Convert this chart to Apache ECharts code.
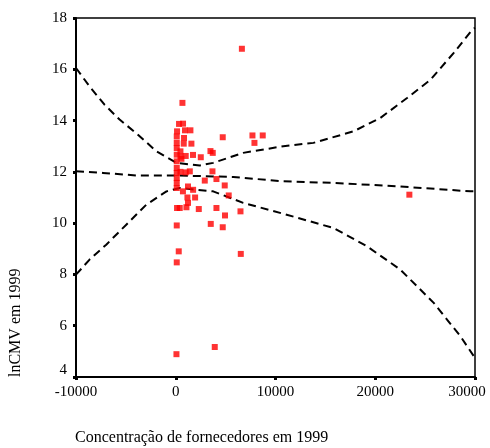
<!DOCTYPE html>
<html>
<head>
<meta charset="utf-8">
<script src="https://cdn.jsdelivr.net/npm/echarts@6/dist/echarts.min.js"></script>
<style>html,body{margin:0;padding:0;background:#fff}#c{width:490px;height:448px}</style>
</head>
<body>
<div id="c"></div>
<script>
var xAxisName = 'Concentração de fornecedores em 1999';
var yAxisName = 'lnCMV em 1999';

var points = [
  [6630,16.8],[670,14.69],[330,13.87],[730,13.88],[130,13.58],[930,13.62],[1470,13.62],
  [100,13.38],[830,13.32],[7690,13.42],[8720,13.42],[7890,13.13],[4710,13.35],
  [100,13.13],[800,13.10],[1570,13.10],[100,12.93],[470,12.80],[100,12.67],[470,12.6],
  [1000,12.62],[1730,12.66],[2510,12.57],[3480,12.81],[3710,12.74],[100,12.41],[570,12.51],
  [100,12.15],[100,11.96],[470,12.0],[1000,11.98],[1410,12.02],[3680,12.02],[100,11.76],
  [100,11.57],[100,11.37],[1230,11.43],[2910,11.66],[4080,11.72],[720,11.24],[1740,11.30],
  [4910,11.47],[1170,11.0],[1940,11.0],[5310,11.08],[1230,10.79],[130,10.59],[400,10.59],
  [1070,10.62],[2310,10.55],[4080,10.59],[4940,10.30],[6490,10.46],[100,9.91],[3510,9.97],
  [4710,9.84],[300,8.90],[6520,8.80],[100,8.47],[3910,5.17],[70,4.89],[23420,11.11]
];

var upperBand = [
  [-10000,16.05],[-8640,15.33],[-7140,14.62],[-5630,14.04],[-3790,13.45],[-1940,12.80],
  [70,12.35],[2410,12.25],[3750,12.35],[6760,12.74],[10780,13.0],[13800,13.13],[17820,13.58],
  [20500,14.1],[23190,14.88],[25530,15.59],[27870,16.64],[29720,17.54],[30000,17.62]
];
var fitLine = [
  [-10000,12.02],[-7300,11.96],[-3950,11.86],[70,11.86],[5760,11.80],[10780,11.63],
  [15810,11.57],[22510,11.43],[29550,11.24],[30000,11.24]
];
var lowerBand = [
  [-10000,7.99],[-8640,8.58],[-6970,9.16],[-4960,9.94],[-2950,10.72],[-930,11.24],
  [400,11.37],[3750,11.24],[6760,10.79],[11120,10.33],[15810,9.81],[19160,9.10],
  [22510,8.19],[25860,6.89],[28540,5.59],[29880,4.81],[30000,4.74]
];

var serif = '"Liberation Serif", "DejaVu Serif", serif';
var chart = echarts.init(document.getElementById('c'), null, {renderer:'canvas'});

function dashed(data){
  return {type:'line', data:data, showSymbol:false, symbol:'none', smooth:false,
    lineStyle:{color:'#000', width:2, type:[8,5]}, z:3, animation:false, silent:true};
}

chart.setOption({
  animation:false,
  backgroundColor:'#fff',
  grid:{left:76, right:15, top:18, bottom:71, show:true, borderColor:'#000', borderWidth:1.5, backgroundColor:'transparent'},
  xAxis:{
    type:'value', min:-10000, max:30000, interval:10000,
    axisLine:{show:true, onZero:false, lineStyle:{color:'#000', width:2}},
    axisTick:{show:true, length:3, lineStyle:{color:'#000', width:3}},
    splitLine:{show:false},
    axisLabel:{color:'#000', fontFamily:serif, fontSize:15, margin:8,
      formatter:function(v){ return v===30000 ? '{r|30000}' : String(v); },
      rich:{r:{fontFamily:serif, fontSize:15, color:'#000', padding:[0,16,0,0]}}}
  },
  yAxis:{
    type:'value', min:4, max:18, interval:2,
    axisLine:{show:true, onZero:false, lineStyle:{color:'#000', width:2}},
    axisTick:{show:true, length:3, lineStyle:{color:'#000', width:3}},
    splitLine:{show:false},
    axisLabel:{color:'#000', fontFamily:serif, fontSize:15, margin:9,
      formatter:function(v){ return v===4 ? '{u|4}' : String(v); },
      rich:{u:{fontFamily:serif, fontSize:15, color:'#000', padding:[0,0,14,0]}}}
  },
  graphic:[
    {type:'text', left:75, top:430, style:{text:xAxisName, font:'16px ' + serif, fill:'#000'}},
    {type:'text', x:16, y:377, rotation:Math.PI/2, style:{text:yAxisName, font:'16px ' + serif, fill:'#000', align:'left', verticalAlign:'middle'}}
  ],
  series:[
    dashed(upperBand), dashed(fitLine), dashed(lowerBand),
    {type:'scatter', data:points, symbol:'rect', symbolSize:6, itemStyle:{color:'#ff0000'}, z:4, animation:false}
  ]
});
</script>
</body>
</html>
